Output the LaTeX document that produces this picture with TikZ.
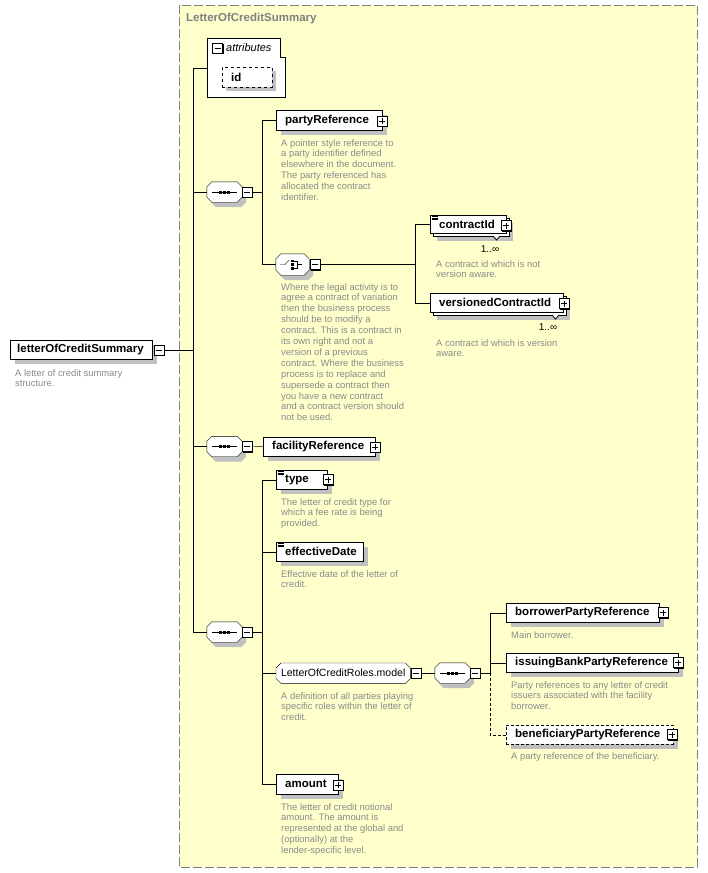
\documentclass[tikz,border=0pt]{standalone}
\usepackage{fontspec}
\setmainfont{Liberation Sans}
\usetikzlibrary{shadows,calc}
\definecolor{bgyellow}{HTML}{FFFFCC}
\definecolor{framegray}{HTML}{808080}
\definecolor{descgray}{HTML}{8A8A8A}
\definecolor{shgray}{HTML}{C0C0C0}
\pgfdeclarelayer{bg}
\pgfdeclarelayer{edges}
\pgfdeclarelayer{shapes}
\pgfsetlayers{bg,edges,shapes,main}
\newcommand\octa[2]{([xshift=#2]#1.north west) -- ([xshift=-#2]#1.north east) -- ([yshift=-#2]#1.north east) -- ([yshift=#2]#1.south east) -- ([xshift=-#2]#1.south east) -- ([xshift=#2]#1.south west) -- ([yshift=#2]#1.south west) -- ([yshift=-#2]#1.north west) -- cycle}
\newcommand\namefont{\fontsize{11.5}{13}\selectfont\bfseries}
\newcommand\descfont{\fontsize{9.4}{10.9}\selectfont}
\begin{document}
\begin{tikzpicture}[x=1pt,y=-1pt,line width=1pt,
  ebase/.style={rectangle,draw=black,fill=white,inner xsep=9pt,inner ysep=0pt,minimum height=19pt,anchor=north west,font=\namefont},
  elem/.style={ebase,drop shadow={shadow xshift=5pt,shadow yshift=-5pt,fill=shgray,opacity=1}},
  melem/.style={ebase,drop shadow={shadow xshift=7pt,shadow yshift=-8pt,fill=shgray,opacity=1},
    general shadow={shadow xshift=3pt,shadow yshift=-3pt,fill=white,draw=black}},
  desc/.style={anchor=north west,inner sep=0pt,align=left,font=\descfont,text=descgray},
  btn/.style={rectangle,draw=black,fill=white,minimum size=10pt,inner sep=0pt,line width=1pt,
    drop shadow={shadow xshift=1pt,shadow yshift=-1pt,fill=black,opacity=1}},
  pbtn/.style={btn,path picture={\draw[line width=1pt] ([xshift=2pt]path picture bounding box.west) -- ([xshift=-2pt]path picture bounding box.east) ([yshift=-2pt]path picture bounding box.north) -- ([yshift=2pt]path picture bounding box.south);}},
  mbtn/.style={btn,path picture={\draw[line width=1pt] ([xshift=2pt]path picture bounding box.west) -- ([xshift=-2pt]path picture bounding box.east);}},
  comp/.style={rectangle,inner sep=0pt,minimum width=35pt,minimum height=20pt},
  occ/.style={inner sep=0pt,font=\fontsize{10}{12}\selectfont}
]
\useasboundingbox (0,0) rectangle (707,873);
\begin{pgfonlayer}{bg}
\draw[framegray,fill=bgyellow,dash pattern=on 9pt off 3pt,line width=1pt] (179,5) rectangle (697,867);
\end{pgfonlayer}
\node[anchor=west,inner sep=0pt,font=\namefont,text=framegray] (title) at (186,19) {LetterOfCreditSummary};

% root
\node[elem,inner xsep=7pt] (root) at (10,340) {\makebox[128pt][l]{letterOfCreditSummary}};
\node[mbtn] (rootbtn) at (159,350) {};
\node[desc] (rootdesc) at (15,369) {A letter of credit summary\\structure.};

% attributes
\node[rectangle,inner sep=0pt,minimum width=78pt,minimum height=59pt,anchor=north west] (attr) at (207,38) {};
\node[mbtn] (attrbtn) at (217.5,48) {};
\node[anchor=west,inner sep=0pt,font=\fontsize{11}{13}\selectfont\itshape] (attrlbl) at (226,48) {attributes};
\node[ebase,dashed,minimum height=20pt,drop shadow={shadow xshift=4pt,shadow yshift=-4pt,fill=shgray,opacity=1}] (id) at (222,67) {\makebox[32pt][l]{id}};

% spine
\coordinate (spT) at (193,68);
\coordinate (spB) at (193,632);
\coordinate (v1) at (262,0);
\coordinate (v2) at (415,0);
\coordinate (v3) at (262,0);
\coordinate (v4) at (490,0);

% sequence 1
\node[comp] (seq1) at (224.5,192) {};
\node[mbtn] (seq1btn) at (247,192) {};
\node[elem,minimum height=20pt] (pref) at (276,110) {\makebox[88pt][l]{partyReference}};
\node[pbtn] (prefbtn) at (382,121) {};
\node[desc] (prefdesc) at (281,139) {A pointer style reference to\\a party identifier defined\\elsewhere in the document.\\The party referenced has\\allocated the contract\\identifier.};

% choice
\node[comp,minimum width=33pt,minimum height=21pt] (ch) at (292.5,264.5) {};
\node[mbtn] (chbtn) at (315,264.5) {};
\node[desc] (chdesc) at (281,283) {Where the legal activity is to\\agree a contract of variation\\then the business process\\should be to modify a\\contract. This is a contract in\\its own right and not a\\version of a previous\\contract. Where the business\\process is to replace and\\supersede a contract then\\you have a new contract\\and a contract version should\\not be used.};

\node[melem,minimum height=18pt] (cid) at (430,215) {\makebox[58pt][l]{contractId}};
\node[pbtn] (cidbtn) at (506,225.5) {};
\node[occ] (cidocc) at (490,249) {1..∞};
\node[desc] (ciddesc) at (436,260) {A contract id which is not\\version aware.};

\node[melem] (vcid) at (430,293) {\makebox[115pt][l]{versionedContractId}};
\node[pbtn] (vcidbtn) at (564,303.5) {};
\node[occ] (vcidocc) at (548,327) {1..∞};
\node[desc] (vciddesc) at (436,339) {A contract id which is version\\aware.};

% sequence 2
\node[comp] (seq2) at (224.5,446.5) {};
\node[mbtn] (seq2btn) at (247,446.5) {};
\node[elem] (fac) at (263,437) {\makebox[94pt][l]{facilityReference}};
\node[pbtn] (facbtn) at (375,447) {};

% sequence 3
\node[comp] (seq3) at (224.5,632) {};
\node[mbtn] (seq3btn) at (247,632) {};
\node[elem] (type) at (276,470) {\makebox[33pt][l]{type}};
\node[pbtn] (typebtn) at (328,479.5) {};
\node[desc] (typedesc) at (281,498) {The letter of credit type for\\which a fee rate is being\\provided.};
\node[elem] (eff) at (276,542) {\makebox[69pt][l]{effectiveDate}};
\node[desc] (effdesc) at (281,570) {Effective date of the letter of\\credit.};
\node[rectangle,inner sep=0pt,minimum width=134pt,minimum height=20pt,anchor=north west,font=\fontsize{10.5}{12}\selectfont] (roles) at (276,663) {LetterOfCreditRoles.model};
\node[mbtn] (rolesbtn) at (416,673) {};
\node[desc] (rolesdesc) at (281,692) {A definition of all parties playing\\specific roles within the letter of\\credit.};
\node[elem,minimum height=20pt] (amt) at (276,774) {\makebox[44pt][l]{amount}};
\node[pbtn] (amtbtn) at (338,785) {};
\node[desc] (amtdesc) at (281,803) {The letter of credit notional\\amount. The amount is\\represented at the global and\\(optionally) at the\\lender-specific level.};

% sequence 4
\node[comp] (seq4) at (452.5,673) {};
\node[mbtn] (seq4btn) at (475,673) {};
\node[elem] (bor) at (506,603) {\makebox[135pt][l]{borrowerPartyReference}};
\node[pbtn] (borbtn) at (663,612.5) {};
\node[desc] (bordesc) at (511,631) {Main borrower.};
\node[elem] (iss) at (506,653) {\makebox[154pt][l]{issuingBankPartyReference}};
\node[pbtn] (issbtn) at (678,662.5) {};
\node[desc] (issdesc) at (511,681) {Party references to any letter of credit\\issuers associated with the facility\\borrower.};
\node[elem,dash pattern=on 3pt off 2pt] (bene) at (506,725) {\makebox[149pt][l]{beneficiaryPartyReference}};
\node[pbtn] (benebtn) at (672,734.5) {};
\node[desc] (benedesc) at (511,752) {A party reference of the beneficiary.};

% shapes
\begin{pgfonlayer}{shapes}
\draw[fill=white] (207,38) -- (280,38) -- (280,57) -- (285,57) -- (285,97) -- (207,97) -- cycle;
\foreach \n in {seq1,seq2,seq3,seq4,ch}{
  \fill[shgray,transform canvas={xshift=4pt,yshift=-5pt}] \octa{\n}{5pt};
  \draw[fill=white] \octa{\n}{5pt};
}
\draw[fill=white] \octa{roles}{5pt};
\end{pgfonlayer}

% icons
\foreach \n in {seq1,seq2,seq3,seq4}{
  \draw ([xshift=5pt]\n.west) -- ([xshift=-5pt]\n.east);
  \foreach \d in {-5.5,-1.5,2.5} \fill ([xshift=\d pt,yshift=1.5pt]\n.center) rectangle ++(3,3);
}
\begin{scope}[shift={(ch.center)}]
  \draw (-12.5,0) -- (-7.5,0) -- (-3.2,-4.5);
  \fill (-1.5,-5) rectangle (1.2,-2.5);
  \fill (-1.5,-1.3) rectangle (1.2,1.3);
  \fill (-1.5,2.5) rectangle (1.2,5);
  \draw (1.2,-3.8) -- (4.5,-3.8) -- (4.5,3.8) -- (1.2,3.8);
  \draw (4.5,0) -- (9.5,0);
\end{scope}
\foreach \n in {cid,type,eff}{
  \foreach \k in {1.5,3,4.5} \draw[line width=0.8pt] ([xshift=2pt,yshift=-\k pt]\n.north west) -- ++(6,0);
}
\draw[fill=white,line width=0.8pt] (493,236) -- (496.5,240) -- (500,236);
\draw[fill=white,line width=0.8pt] (552,315) -- (555.5,319) -- (559,315);

% connectors
\begin{pgfonlayer}{edges}
\draw (rootbtn.east) -- (rootbtn.east -| spT);
\draw (spT) -- (spB);
\draw (spT) -- (spT -| attr.west);
\draw (seq1.west -| spT) -- (seq1.west);
\draw (seq1btn.east) -- (seq1btn.east -| v1);
\draw (pref.west -| v1) -- (pref.west);
\draw (pref.west -| v1) -- (ch.west -| v1) -- (ch.west);
\draw (chbtn.east) -- (chbtn.east -| v2);
\draw (cid.west -| v2) -- (cid.west);
\draw (cid.west -| v2) -- (vcid.west -| v2) -- (vcid.west);
\draw (seq2.west -| spT) -- (seq2.west);
\draw (seq2btn.east) -- (fac.west);
\draw (spB) -- (seq3.west);
\draw (seq3btn.east) -- (seq3btn.east -| v3);
\draw (type.west -| v3) -- (amt.west -| v3);
\draw (type.west -| v3) -- (type.west);
\draw (eff.west -| v3) -- (eff.west);
\draw (roles.west -| v3) -- (roles.west);
\draw (amt.west -| v3) -- (amt.west);
\draw (rolesbtn.east) -- (seq4.west);
\draw (seq4btn.east) -- (seq4btn.east -| v4);
\draw (bor.west -| v4) -- (bor.west);
\draw (bor.west -| v4) -- (seq4btn.east -| v4);
\draw (iss.west -| v4) -- (iss.west);
\draw[dash pattern=on 3pt off 2pt] (seq4btn.east -| v4) -- (bene.west -| v4) -- (bene.west);
\end{pgfonlayer}
\end{tikzpicture}
\end{document}
